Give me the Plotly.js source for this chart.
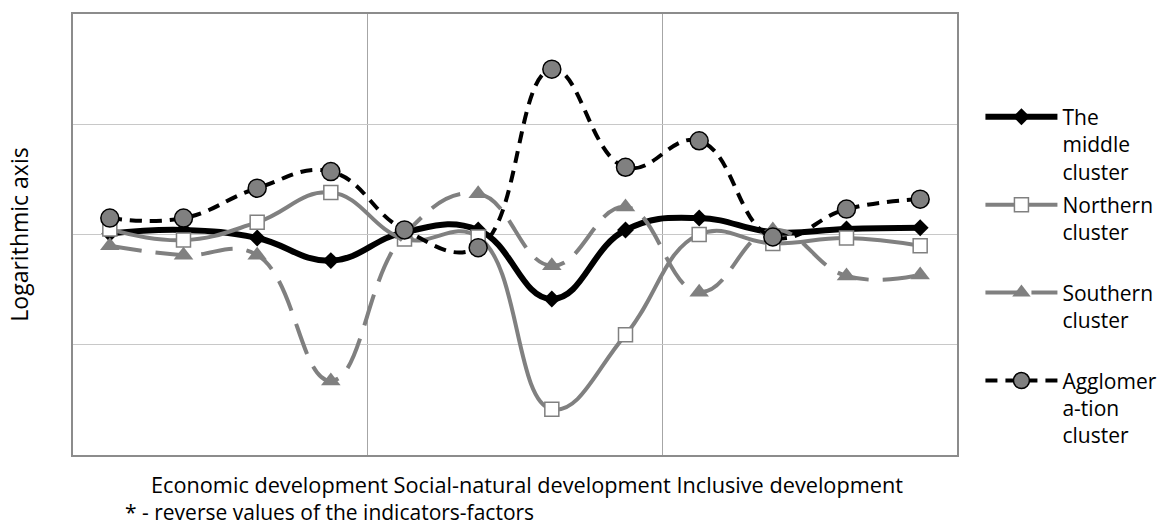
<!DOCTYPE html>
<html>
<head>
<meta charset="utf-8">
<script src="https://cdn.plot.ly/plotly-3.0.1.min.js"></script>
<style>html,body{margin:0;padding:0;background:#fff;}#chart{width:1164px;height:525px;}</style>
</head>
<body>
<div id="chart"></div>
<script>
// 12 indicator positions (three groups of four)
const categories = [0, 1, 2, 3, 4, 5, 6, 7, 8, 9, 10, 11];
const groupLabels = ["Economic development", "Social-natural development", "Inclusive development"];
const seriesNames = ["The<br>middle<br>cluster", "Northern<br>cluster<br>\u00a0", "Southern<br>cluster<br>\u00a0", "Agglomer<br>a-tion<br>cluster"];
const yTitle = "Logarithmic axis";
const footnote = "* - reverse values of the indicators-factors";

// values on logarithmic axis
const middleCluster   = [1.02, 1.10, 0.93, 0.58, 1.05, 1.10, 0.26, 1.10, 1.41, 1.05, 1.12, 1.15];
const northernCluster = [1.12, 0.89, 1.29, 2.40, 0.91, 0.95, 0.026, 0.123, 1.00, 0.83, 0.93, 0.79];
const southernCluster = [0.79, 0.65, 0.65, 0.047, 1.00, 2.34, 0.52, 1.78, 0.30, 1.10, 0.42, 0.43];
const agglomCluster   = [1.41, 1.41, 2.63, 3.72, 1.10, 0.76, 31.6, 4.07, 7.08, 0.95, 1.70, 2.09];

const font = "Open Sans, sans-serif";
const gray = "#808080";
const sm = 1.25;

const traces = [
  {
    x: categories, y: middleCluster, name: seriesNames[0], legendgroup: "a", type: "scatter", mode: "lines+markers",
    line: {color: "#000000", width: 6, shape: "spline", smoothing: sm},
    marker: {symbol: "diamond", size: 13, color: "#000000"}
  },
  {
    x: categories, y: northernCluster, name: seriesNames[1], legendgroup: "b", type: "scatter", mode: "lines+markers",
    line: {color: gray, width: 4, shape: "spline", smoothing: sm},
    marker: {symbol: "square", size: 14, color: "#ffffff", line: {color: gray, width: 1.5}}
  },
  {
    x: categories, y: southernCluster, name: seriesNames[2], legendgroup: "c", type: "scatter", mode: "lines+markers",
    line: {color: gray, width: 4, shape: "spline", smoothing: sm, dash: "32px,14px"},
    marker: {symbol: "triangle-up", size: 17, color: gray}
  },
  {
    x: categories, y: agglomCluster, name: seriesNames[3], legendgroup: "d", type: "scatter", mode: "lines+markers",
    line: {color: "#000000", width: 4, shape: "spline", smoothing: sm, dash: "12px,8px"},
    marker: {symbol: "circle", size: 18, color: gray, line: {color: "#000000", width: 1.5}}
  }
];

const layout = {
  width: 1164, height: 525,
  margin: {l: 73, r: 207, t: 14, b: 70},
  paper_bgcolor: "#ffffff", plot_bgcolor: "#ffffff",
  font: {family: font, size: 21, color: "#000000"},
  showlegend: true,
  legend: {
    xref: "container", yref: "container",
    x: 0.8423, xanchor: "left", y: 0.8159, yanchor: "top",
    valign: "top", itemwidth: 72, tracegroupgap: 3, maxheight: 600,
    font: {family: font, size: 21, color: "#000000"},
    bgcolor: "rgba(0,0,0,0)"
  },
  xaxis: {
    range: [-0.5, 11.5],
    tickvals: [3.5, 7.5], showticklabels: false, ticks: "",
    showgrid: true, gridcolor: "#a6a6a6", gridwidth: 1,
    zeroline: false,
    showline: true, linecolor: "#8c8c8c", linewidth: 2, mirror: true
  },
  yaxis: {
    type: "log", range: [-2, 2], dtick: 1,
    showticklabels: false, ticks: "",
    showgrid: true, gridcolor: "#c8c8c8", gridwidth: 1,
    zeroline: false,
    showline: true, linecolor: "#8c8c8c", linewidth: 2, mirror: true,
    title: {text: yTitle, font: {family: font, size: 23}, standoff: 36}
  },
  annotations: [
    {
      text: groupLabels.join(" "),
      xref: "paper", yref: "paper", x: 0.5135, y: -0.068, xanchor: "center", yanchor: "middle",
      showarrow: false, font: {family: font, size: 21.7, color: "#000000"}
    },
    {
      text: footnote,
      xref: "paper", yref: "paper", x: 0.0566, y: -0.13, xanchor: "left", yanchor: "middle",
      showarrow: false, font: {family: font, size: 21, color: "#000000"}
    }
  ]
};

Plotly.newPlot("chart", traces, layout, {displayModeBar: false, staticPlot: true});
</script>
</body>
</html>
